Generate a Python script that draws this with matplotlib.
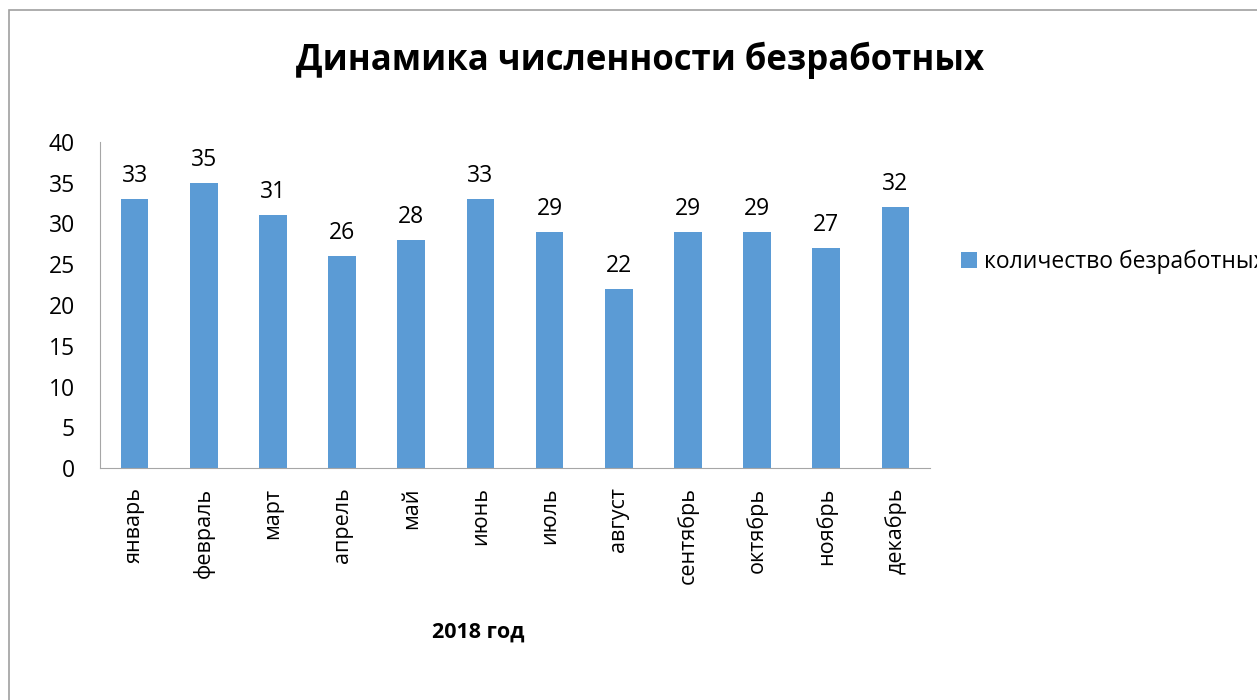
import matplotlib.pyplot as plt
from matplotlib.patches import Rectangle

months = ["январь", "февраль", "март", "апрель", "май", "июнь",
          "июль", "август", "сентябрь", "октябрь", "ноябрь", "декабрь"]
unemployed = [33, 35, 31, 26, 28, 33, 29, 22, 29, 29, 27, 32]

plt.rcParams["font.family"] = ["Open Sans", "DejaVu Sans"]

fig = plt.figure(figsize=(12.57, 7), dpi=100)
ax = fig.add_axes([100 / 1257, 1 - 468 / 700, 830 / 1257, 326 / 700])

bars = ax.bar(range(len(months)), unemployed, width=0.4, color="#5B9BD5",
              label="количество безработных")
ax.bar_label(bars, padding=8, fontsize=16.5)

ax.set_ylim(0, 40)
ax.set_yticks(range(0, 41, 5))
ax.set_xlim(-0.5, len(months) - 0.5)
ax.set_xticks(range(len(months)))
ax.set_xticklabels(months, rotation=90, fontsize=15.5)
ax.tick_params(axis="y", labelsize=16.5, length=0, pad=18)
ax.tick_params(axis="x", length=0, pad=14)
for s in ["top", "right"]:
    ax.spines[s].set_visible(False)
for s in ["left", "bottom"]:
    ax.spines[s].set_color("#A6A6A6")

fig.text(640 / 1257, 1 - 60 / 700, "Динамика численности безработных",
         ha="center", va="center", fontsize=25, fontweight="bold")
fig.text(478 / 1257, 1 - 632 / 700, "2018 год", ha="center", va="center",
         fontsize=15.5, fontweight="bold")

fig.legend(loc="center left", bbox_to_anchor=(940 / 1257, 1 - 262 / 700),
           frameon=False, fontsize=16.5, handlelength=0.7, handleheight=0.7,
           handletextpad=0.3)

fig.patches.append(Rectangle((9 / 1257, -0.01), 1.01, 1 - 10 / 700 + 0.01,
                             transform=fig.transFigure, fill=False,
                             edgecolor="#A0A0A0", linewidth=1.2))

plt.savefig("out.png", dpi=100)
plt.close()
